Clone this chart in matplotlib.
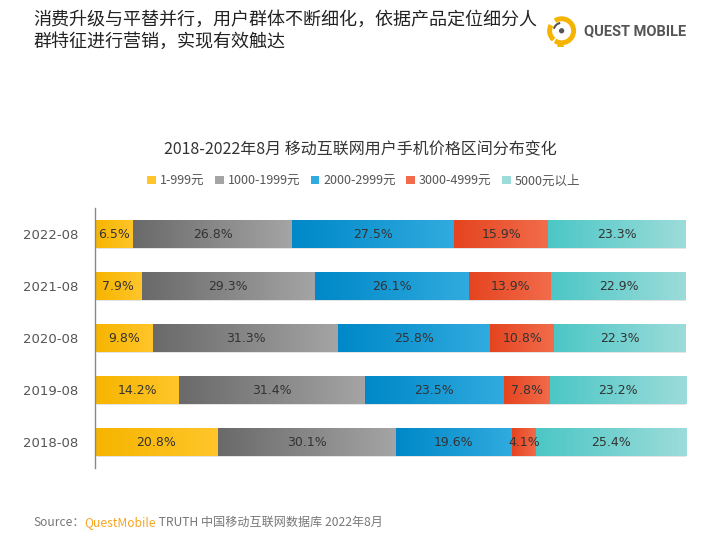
import matplotlib
matplotlib.use("Agg")
import matplotlib.pyplot as plt
import numpy as np
from matplotlib.colors import LinearSegmentedColormap
from matplotlib.patches import Patch, Arc, Circle, Wedge

plt.rcParams["font.family"] = ["Noto Sans CJK SC", "DejaVu Sans"]

# data
years = ["2022-08", "2021-08", "2020-08", "2019-08", "2018-08"]
segments = ["1-999元", "1000-1999元", "2000-2999元", "3000-4999元", "5000元以上"]
share_1_999 = [6.5, 7.9, 9.8, 14.2, 20.8]
share_1000_1999 = [26.8, 29.3, 31.3, 31.4, 30.1]
share_2000_2999 = [27.5, 26.1, 25.8, 23.5, 19.6]
share_3000_4999 = [15.9, 13.9, 10.8, 7.8, 4.1]
share_5000_up = [23.3, 22.9, 22.3, 23.2, 25.4]

series = [share_1_999, share_1000_1999, share_2000_2999, share_3000_4999, share_5000_up]
# (left colour, right colour) of each gradient
gradients = [
    ("#F7B500", "#FFC52A"),
    ("#6A6A6A", "#A4A4A4"),
    ("#0088C8", "#30ABDF"),
    ("#E54420", "#F26C4B"),
    ("#4CC7C6", "#9CDCDA"),
]

fig = plt.figure(figsize=(7.2, 5.4), dpi=100)

ax = fig.add_axes([0.132, 0.1333, 0.821, 0.4815])
ax.set_facecolor("none")
ypos = np.arange(len(years))
height = 0.52

for i, y in enumerate(ypos):
    left = 0.0
    total = sum(s[i] for s in series)
    # soft shadow under each bar
    ax.barh(y + 0.035, total, height=height, left=0.3, color="#E4E4E4", zorder=1)
    for s, (c0, c1) in zip(series, gradients):
        w = s[i]
        cmap = LinearSegmentedColormap.from_list("g", [c0, c1])
        grad = np.linspace(0, 1, 64).reshape(1, -1)
        ax.imshow(grad, cmap=cmap, aspect="auto", zorder=2,
                  extent=(left, left + w, y + height / 2, y - height / 2))
        ax.text(left + w / 2, y, f"{w}%", ha="center", va="center", fontsize=9,
                color="#333333", family="DejaVu Sans", zorder=3)
        left += w

ax.set_xlim(0, 100)
ax.set_ylim(len(years) - 0.5, -0.5)
ax.set_yticks(ypos)
ax.set_yticklabels(years, fontsize=9.5, color="#555555", family="DejaVu Sans")
ax.tick_params(axis="y", length=0, pad=12)
ax.set_xticks([])
for side in ["top", "right", "bottom"]:
    ax.spines[side].set_visible(False)
ax.spines["left"].set_color("#888888")
ax.spines["left"].set_linewidth(1.0)

# legend
handles = [Patch(facecolor=c1, edgecolor="none") for c0, c1 in gradients]
fig.legend(handles, segments, loc="center", bbox_to_anchor=(0.505, 0.665), ncol=5,
           frameon=False, fontsize=9, handlelength=0.7, handleheight=0.7,
           handletextpad=0.3, columnspacing=0.85, labelcolor="#555555")

# titles
fig.text(0.046, 0.963, "消费升级与平替并行，用户群体不断细化，依据产品定位细分人",
         fontsize=13, color="#222222", va="center")
fig.text(0.046, 0.922, "群特征进行营销，实现有效触达",
         fontsize=13, color="#222222", va="center")
fig.text(0.5, 0.722, "2018-2022年8月 移动互联网用户手机价格区间分布变化",
         fontsize=11.5, color="#333333", ha="center", va="center")

# source
src = fig.text(0.046, 0.033, "Source：", fontsize=8.7, color="#777777", va="center")
fig.canvas.draw()
bb = src.get_window_extent()
t2 = fig.text(bb.x1 / fig.bbox.width, 0.033, "QuestMobile", fontsize=8.7,
              color="#F5A623", va="center")
bb2 = t2.get_window_extent(renderer=fig.canvas.get_renderer())
fig.text(bb2.x1 / fig.bbox.width, 0.033, " TRUTH 中国移动互联网数据库 2022年8月",
         fontsize=8.7, color="#777777", va="center")

# logo
lax = fig.add_axes([0.757, 0.912, 0.046, 0.062])
lax.set_xlim(-1.2, 1.2)
lax.set_ylim(-1.2, 1.2)
lax.set_aspect("equal")
lax.axis("off")
lax.add_patch(Wedge((0, 0), 1.0, -120, 120, width=0.26, color="#F5B400"))
lax.add_patch(Wedge((0, 0), 1.0, 155, 225, width=0.26, color="#F5B400"))
lax.add_patch(Wedge((0.0, -0.95), 0.3, 200, 300, color="#F5B400"))
lax.add_patch(Arc((0, 0), 1.15, 1.15, theta1=100, theta2=165, color="#555555", lw=1.5))
lax.add_patch(Circle((0, 0), 0.14, color="#555555"))
fig.text(0.811, 0.942, "QUEST MOBILE", fontsize=10.5, fontweight="bold",
         color="#555555", va="center", family="Roboto")

fig.savefig("out.png", dpi=100)
